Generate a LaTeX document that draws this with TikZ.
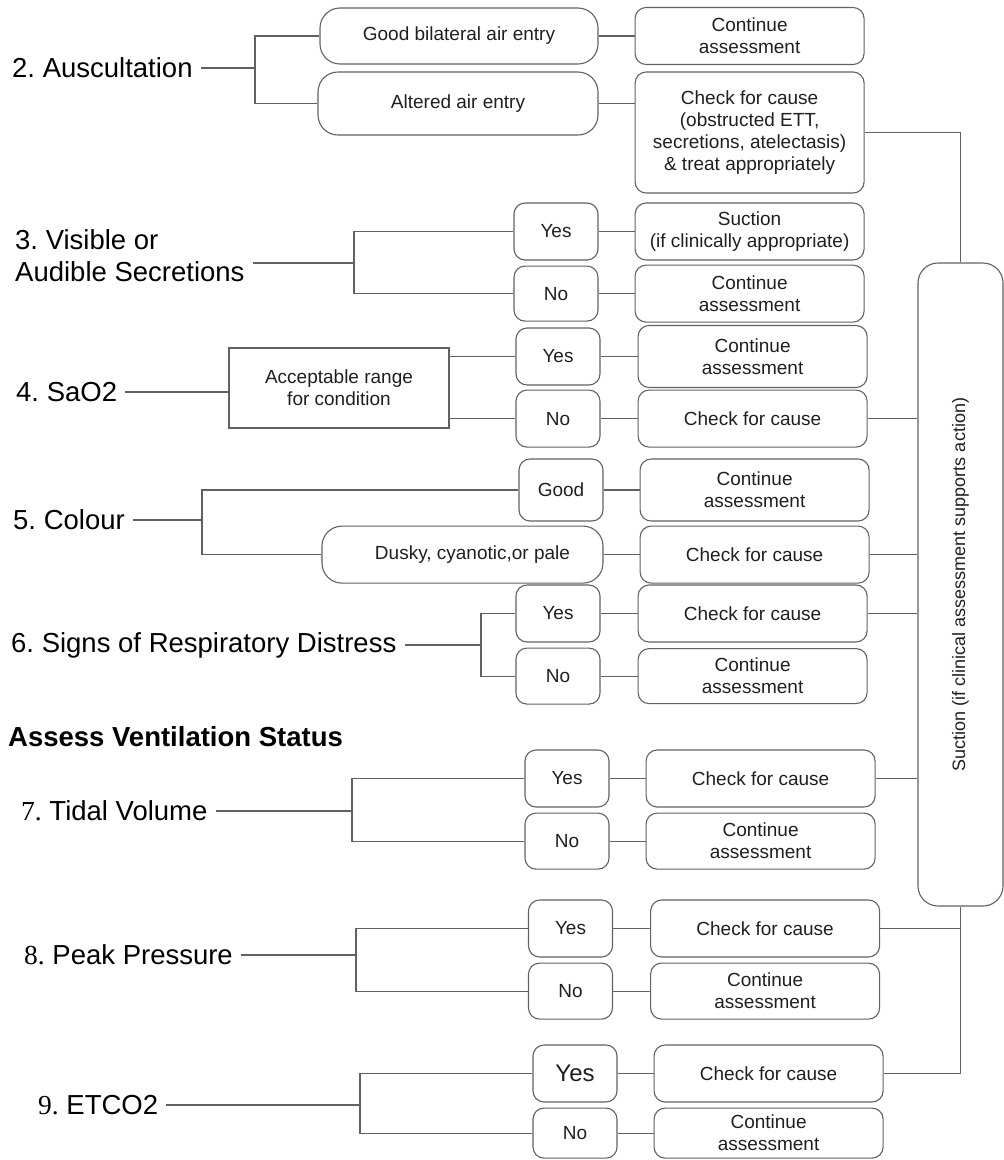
\documentclass[tikz,border=0pt]{standalone}
\usepackage{fontspec}
\setmainfont{Liberation Sans}
\newfontfamily\numfont{Liberation Serif}
\usepackage{graphicx}
\usetikzlibrary{positioning}
\frenchspacing
\tikzset{
	lab/.style={anchor=west, inner xsep=8pt, inner ysep=0pt, align=left, font=\fontsize{27.5}{32}\selectfont},
	ansbox/.style={draw=black!62, line width=1.1pt, rounded corners=11pt, minimum width=84pt, minimum height=57pt, inner sep=2pt, align=center, text=black!88, font=\fontsize{19}{22}\selectfont},
	outbox/.style={ansbox, minimum width=229pt},
	widebox/.style={ansbox, rounded corners=20pt, minimum width=280pt},
	rangebox/.style={ansbox, sharp corners, minimum width=220pt, minimum height=80pt},
	link/.style={draw=black!62, line width=1.1pt},
}

\begin{document}
\begin{tikzpicture}[x=1pt, y=-1pt]
    \useasboundingbox (0,0) rectangle (1004,1160);

    \node[lab] (lab2) at (4,68) {2. Auscultation};
    \node[widebox, minimum width=278pt, minimum height=56pt] (good2) at (459,36) {Good bilateral air entry};
    \node[widebox, minimum height=63pt] (alt2) at (458,103.5) {Altered air entry};
    \node[outbox, right=36pt of good2] (cont2) {Continue\\assessment};
    \node[outbox, minimum height=121pt, right=36pt of alt2.north east, anchor=north west] (chk2) {Check for cause\\(obstructed ETT,\\secretions, atelectasis)\\\& treat appropriately};
    \coordinate (b2) at (255,68);

    \node[lab] (lab3) at (7,256) {3. Visible or\\Audible Secretions};
    \node[ansbox] (yes3) at (556,231.5) {Yes};
    \node[ansbox, minimum height=55pt, below=5pt of yes3] (no3) {No};
    \node[outbox, right=36pt of yes3] (suc3) {Suction\\(if clinically appropriate)};
    \node[outbox, right=36pt of no3] (cont3) {Continue\\assessment};
    \coordinate (b3) at (354,263);

    \node[lab] (lab4) at (8,392) {4. SaO2};
    \node[rangebox] (acc4) at (339,388) {Acceptable range\\for condition};
    \node[ansbox] (yes4) at (558,356.5) {Yes};
    \node[ansbox, below=4pt of yes4] (no4) {No};
    \node[outbox, minimum height=62pt, right=37pt of yes4] (cont4) {Continue\\assessment};
    \node[outbox, right=37pt of no4] (chk4) {Check for cause};

    \node[lab] (lab5) at (5,520) {5. Colour};
    \node[ansbox, minimum height=62pt] (good5) at (561,490) {Good};
    \node[widebox, minimum width=281pt, below=4pt of good5.south east, anchor=north east] (dusk5) {\hspace*{20pt}Dusky, cyanotic,or pale};
    \node[outbox, minimum height=62pt, right=36pt of good5] (cont5) {Continue\\assessment};
    \node[outbox, right=36pt of dusk5] (chk5) {Check for cause};
    \coordinate (b5) at (202,520);

    \node[lab] (lab6) at (3,645) {6. Signs of Respiratory Distress};
    \node[ansbox] (yes6) at (558,613.5) {Yes};
    \node[ansbox, minimum height=56pt, below=5pt of yes6] (no6) {No};
    \node[outbox, right=37pt of yes6] (chk6) {Check for cause};
    \node[outbox, minimum height=55pt, right=37pt of no6] (cont6) {Continue\\assessment};
    \coordinate (b6) at (481,645);

    \node[lab, font=\bfseries\fontsize{27.5}{32}\selectfont] (head) at (0,737) {Assess Ventilation Status};

    \node[lab] (lab7) at (13,811) {{\numfont 7.} Tidal Volume};
    \node[ansbox] (yes7) at (567,778.5) {Yes};
    \node[ansbox, minimum height=56pt, below=5pt of yes7] (no7) {No};
    \node[outbox, right=36pt of yes7] (chk7) {Check for cause};
    \node[outbox, minimum height=56pt, right=36pt of no7] (cont7) {Continue\\assessment};
    \coordinate (b7) at (352,811);

    \node[lab] (lab8) at (16,955) {{\numfont 8.} Peak Pressure};
    \node[ansbox] (yes8) at (570.5,928.5) {Yes};
    \node[ansbox, minimum height=56pt, below=5pt of yes8] (no8) {No};
    \node[outbox, right=37pt of yes8] (chk8) {Check for cause};
    \node[outbox, minimum height=56pt, right=37pt of no8] (cont8) {Continue\\assessment};
    \coordinate (b8) at (356,955);

    \node[lab] (lab9) at (30,1105) {{\numfont 9.} ETCO2};
    \node[ansbox, font=\fontsize{24}{28}\selectfont] (yes9) at (575,1073.5) {Yes};
    \node[ansbox, minimum height=50pt, below=5pt of yes9] (no9) {No};
    \node[outbox, right=36pt of yes9] (chk9) {Check for cause};
    \node[outbox, minimum height=50pt, right=36pt of no9] (cont9) {Continue\\assessment};
    \coordinate (b9) at (360,1105);

    \node[ansbox, rounded corners=20pt, minimum width=85pt, minimum height=643pt, font=\fontsize{18}{20}\selectfont] (suct) at (960.5,584.5) {\rotatebox{90}{Suction (if clinical assessment supports action)}};

    \draw[link] (lab2.east) -- (b2);
    \draw[link] (good2.west) -| (b2) |- (alt2.west);
    \draw[link] (good2) -- (cont2);
    \draw[link] (alt2.east) -- (alt2.east -| chk2.west);

    \draw[link] (b3) -- (b3 -| lab3.east);
    \draw[link] (yes3.west) -| (b3) |- (no3.west);
    \draw[link] (yes3) -- (suc3);
    \draw[link] (no3) -- (cont3);

    \draw[link] (lab4.east) -- (lab4.east -| acc4.west);
    \draw[link] (yes4.west) -- (yes4.west -| acc4.east);
    \draw[link] (no4.west) -- (no4.west -| acc4.east);
    \draw[link] (yes4) -- (cont4);
    \draw[link] (no4) -- (chk4);

    \draw[link] (b5) -- (b5 -| lab5.east);
    \draw[link] (good5.west) -| (b5) |- (dusk5.west);
    \draw[link] (good5) -- (cont5);
    \draw[link] (dusk5) -- (chk5);

    \draw[link] (b6) -- (b6 -| lab6.east);
    \draw[link] (yes6.west) -| (b6) |- (no6.west);
    \draw[link] (yes6) -- (chk6);
    \draw[link] (no6) -- (cont6);

    \draw[link] (b7) -- (b7 -| lab7.east);
    \draw[link] (yes7.west) -| (b7) |- (no7.west);
    \draw[link] (yes7) -- (chk7);
    \draw[link] (no7) -- (cont7);

    \draw[link] (b8) -- (b8 -| lab8.east);
    \draw[link] (yes8.west) -| (b8) |- (no8.west);
    \draw[link] (yes8) -- (chk8);
    \draw[link] (no8) -- (cont8);

    \draw[link] (b9) -- (b9 -| lab9.east);
    \draw[link] (yes9.west) -| (b9) |- (no9.west);
    \draw[link] (yes9) -- (chk9);
    \draw[link] (no9) -- (cont9);

    \draw[link] (chk2.east) -| (suct.north);
    \draw[link] (chk4.east) -- (chk4.east -| suct.west);
    \draw[link] (chk5.east) -- (chk5.east -| suct.west);
    \draw[link] (chk6.east) -- (chk6.east -| suct.west);
    \draw[link] (chk7.east) -- (chk7.east -| suct.west);
    \draw[link] (chk8.east) -| (suct.south);
    \draw[link] (chk9.east) -| (suct.south);
\end{tikzpicture}
\end{document}
